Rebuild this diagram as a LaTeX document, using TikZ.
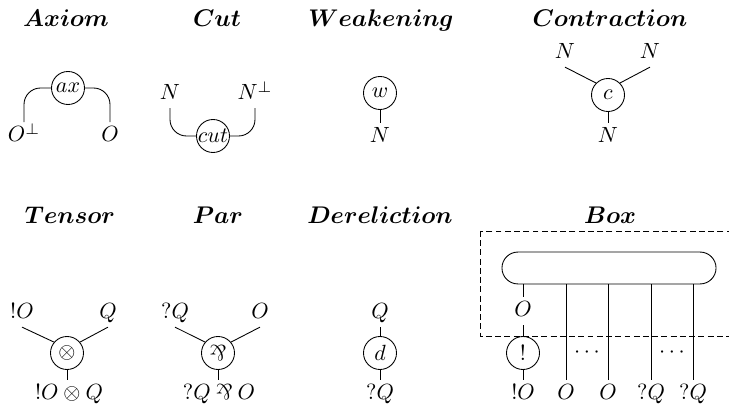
\documentclass[tikz,border=0pt]{standalone}
\usepackage{amssymb}
\usetikzlibrary{shapes.misc}
\newcommand\myparr{\mathbin{\rotatebox[origin=c]{180}{$\&$}}}
\tikzset{
  title/.style={font=\fontsize{11}{13}\selectfont\boldmath, anchor=base},
  gate/.style={draw, circle, inner sep=0pt, minimum size=15pt},
  lab/.style={inner sep=2pt, text height=6.8pt, text depth=1.5pt, anchor=base},
  wire/.style={line width=0.4pt},
  curvedwire/.style={wire, rounded corners=7.5pt},
  boxline/.style={line width=0.4pt, dash pattern=on 2.7pt off 1.5pt},
  dotlab/.style={inner sep=0pt},
}
\begin{document}
\begin{tikzpicture}[x=0.4545pt,y=-0.4545pt]
\useasboundingbox (0,0) rectangle (729,408);
% ---------- Row 1 titles
\node[title] (tAx)  at (66,27)  {$Axiom$};
\node[title] (tCut) at (217,27) {$Cut$};
\node[title] (tW)   at (381,27) {$Weakening$};
\node[title] (tC)   at (610,27) {$Contraction$};
% ---------- Axiom
\node[gate] (ax) at (68,88) {$ax$};
\node[lab] (ax1) at (24,142) {$O^\perp$};
\node[lab] (ax2) at (110,142) {$O$};
\draw[curvedwire] (ax.west) -| (ax1.north);
\draw[curvedwire] (ax.east) -| (ax2.north);
% ---------- Cut
\node[gate] (cut) at (213,136) {\makebox[0pt]{$cut$}};
\node[lab] (cu1) at (170,100) {$N$};
\node[lab] (cu2) at (255,100) {$N^\perp$};
\draw[curvedwire] (cu1.south) |- (cut.west);
\draw[curvedwire] (cu2.south) |- (cut.east);
% ---------- Weakening
\node[gate] (w) at (380,93) {$w$};
\node[lab] (w1) at (380,143) {$N$};
\draw[wire] (w) -- (w1.north);
% ---------- Contraction
\node[gate] (c) at (608,95) {$c$};
\node[lab] (cn1) at (565,59) {$N$};
\node[lab] (cn2) at (650,59) {$N$};
\node[lab] (cn3) at (608,143) {$N$};
\draw[wire] (c.135) -- (cn1.south);
\draw[wire] (c.45) -- (cn2.south);
\draw[wire] (c) -- (cn3.north);
% ---------- Row 2 titles
\node[title] (tT) at (70,224)  {$Tensor$};
\node[title] (tP) at (218,224) {$Par$};
\node[title] (tD) at (380,224) {$Dereliction$};
\node[title] (tB) at (610,224) {$Box$};
% ---------- Tensor
\node[gate] (ten) at (67,353) {$\otimes$};
\node[lab] (te1) at (22,319) {$!O$};
\node[lab] (te2) at (108,319) {$Q$};
\node[lab] (te3) at (69,400) {$!O\otimes Q$};
\draw[wire] (ten.140) -- (te1.south);
\draw[wire] (ten.40) -- (te2.south);
\draw[wire] (ten) -- (ten |- te3.north);
% ---------- Par
\node[gate] (par) at (218,353) {$\myparr$};
\node[lab] (pa1) at (175,319) {$?Q$};
\node[lab] (pa2) at (260,319) {$O$};
\node[lab] (pa3) at (219,400) {$?Q\myparr O$};
\draw[wire] (par.140) -- (pa1.south);
\draw[wire] (par.40) -- (pa2.south);
\draw[wire] (par) -- (par |- pa3.north);
% ---------- Dereliction
\node[lab] (de1) at (380,319) {$Q$};
\node[gate] (der) at (380,353) {$d$};
\node[lab] (de2) at (380,400) {$?Q$};
\draw[wire] (de1.south) -- (der);
\draw[wire] (der) -- (de2.north);
% ---------- Box
\draw[boxline] (480,231) rectangle (760,336);
\node[draw, rounded rectangle, inner sep=0pt, minimum width=97.3pt, minimum height=14.5pt] (pill) at (609,268) {};
\node[lab] (bo) at (523,317) {$O$};
\node[gate] (bang) at (523,353) {$!$};
\node[lab] (b1) at (523,400) {$!O$};
\node[lab] (b2) at (566,400) {$O$};
\node[lab] (b3) at (608,400) {$O$};
\node[lab] (b4) at (651,400) {$?Q$};
\node[lab] (b5) at (693,400) {$?Q$};
\node[dotlab] (dots1) at (587,353) {$\cdots$};
\node[dotlab] (dots2) at (672,353) {$\cdots$};
\draw[wire] (pill.south -| bo) -- (bo.north);
\draw[wire] (bo.south) -- (bang);
\draw[wire] (bang) -- (b1.north);
\draw[wire] (pill.south -| b2) -- (b2.north);
\draw[wire] (pill.south -| b3) -- (b3.north);
\draw[wire] (pill.south -| b4) -- (b4.north);
\draw[wire] (pill.south -| b5) -- (b5.north);
\end{tikzpicture}
\end{document}
